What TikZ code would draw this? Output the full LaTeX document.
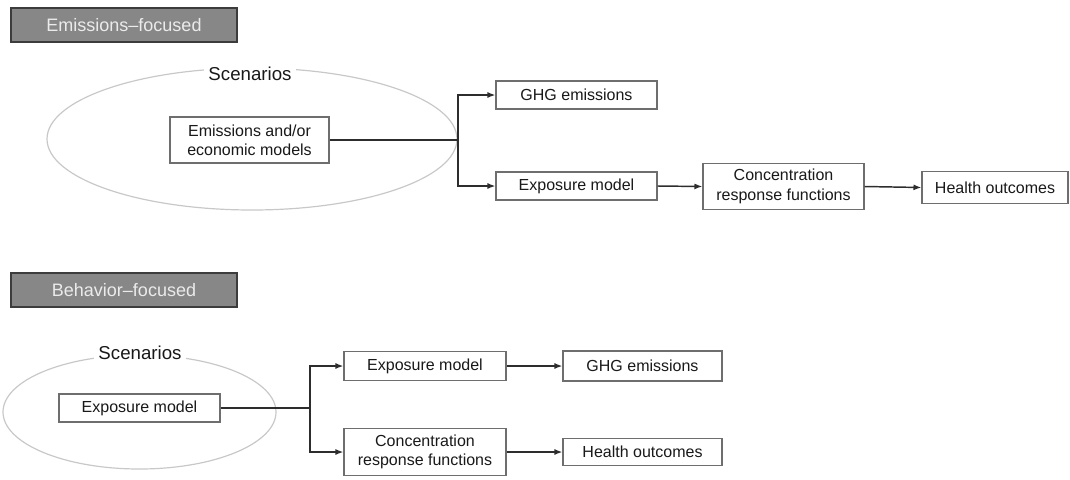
\documentclass[tikz,border=0pt]{standalone}
\usepackage{fontspec}
\setmainfont{Liberation Sans}
\usepackage{xcolor}
\usetikzlibrary{arrows.meta}

\definecolor{hdrfill}{RGB}{135,135,135}
\definecolor{hdredge}{RGB}{60,60,60}
\definecolor{boxedge}{RGB}{110,110,110}
\definecolor{flowline}{RGB}{45,45,45}
\definecolor{scenline}{RGB}{200,200,200}
\definecolor{txt}{RGB}{25,25,25}

\tikzset{
  header/.style={draw=hdredge, line width=1.2pt, fill=hdrfill, text=white!92!black,
    minimum width=169.5pt, minimum height=25.5pt, inner sep=0pt,
    font=\fontsize{13.5}{16}\selectfont},
  box/.style={draw=boxedge, line width=0.8pt, fill=white, text=txt, align=center,
    minimum width=120.75pt, minimum height=21pt, inner sep=1pt,
    font=\fontsize{12}{14.5}\selectfont},
  twoline/.style={box, minimum height=35pt},
  scen/.style={draw=scenline, line width=0.9pt},
  scenlabel/.style={fill=white, text=txt, inner sep=3pt, font=\fontsize{14}{16}\selectfont},
  link/.style={draw=flowline, line width=1.1pt},
  flow/.style={link, -{Latex[length=6pt,width=4.5pt]}}
}

\begin{document}
\begin{tikzpicture}[x=0.75pt,y=0.75pt,yscale=-1,xscale=1]
\useasboundingbox (0,0) rectangle (1070,479);

%Emissions-focused panel
\node [header] (hdrA) at (124,25) {Emissions–focused};

%Scenarios ellipse
\draw [scen] (252,139) ellipse [x radius=205, y radius=71];
\node [scenlabel] (scenA) at (250,74) {Scenarios};

% Text Node
\node [twoline, minimum width=119.25pt, minimum height=34.5pt] (emisA) at (249.5,140) {Emissions and/or\\economic models};
% Text Node
\node [box] (ghgA) at (576.5,95) {GHG emissions};
% Text Node
\node [box] (expoA) at (576.5,186) {Exposure model};
% Text Node
\node [twoline] (crfA) at (783.5,186.5) {Concentration\\response functions};
% Text Node
\node [box, minimum width=109.5pt, minimum height=24pt] (hlthA) at (995,187.5) {Health outcomes};

\coordinate (jA) at (458,140);
\draw [link] (emisA.east) -- (jA);
\draw [flow] (jA) |- (ghgA.west);
\draw [flow] (jA) |- (expoA.west);
\draw [flow] (expoA.east) -- (crfA.west);
\draw [flow] (crfA.east) -- (hlthA.west);

%Behavior-focused panel
\node [header] (hdrB) at (124,290) {Behavior–focused};

%Scenarios ellipse
\draw [scen] (139.5,412) ellipse [x radius=136.5, y radius=57];
\node [scenlabel] (scenB) at (140,353) {Scenarios};

% Text Node
\node [box] (expoB) at (139.5,408) {Exposure model};
% Text Node
\node [box, minimum width=121.5pt, minimum height=21.75pt] (expoC) at (425,366) {Exposure model};
% Text Node
\node [box, minimum width=119.25pt, minimum height=22.5pt] (ghgB) at (642.5,366) {GHG emissions};
% Text Node
\node [twoline, minimum width=121.5pt] (crfB) at (425,452) {Concentration\\response functions};
% Text Node
\node [box, minimum width=119.25pt, minimum height=20.25pt] (hlthB) at (642.5,452) {Health outcomes};

\coordinate (jB) at (310,408);
\draw [link] (expoB.east) -- (jB);
\draw [flow] (jB) |- (expoC.west);
\draw [flow] (jB) |- (crfB.west);
\draw [flow] (expoC.east) -- (ghgB.west);
\draw [flow] (crfB.east) -- (hlthB.west);
\end{tikzpicture}
\end{document}
